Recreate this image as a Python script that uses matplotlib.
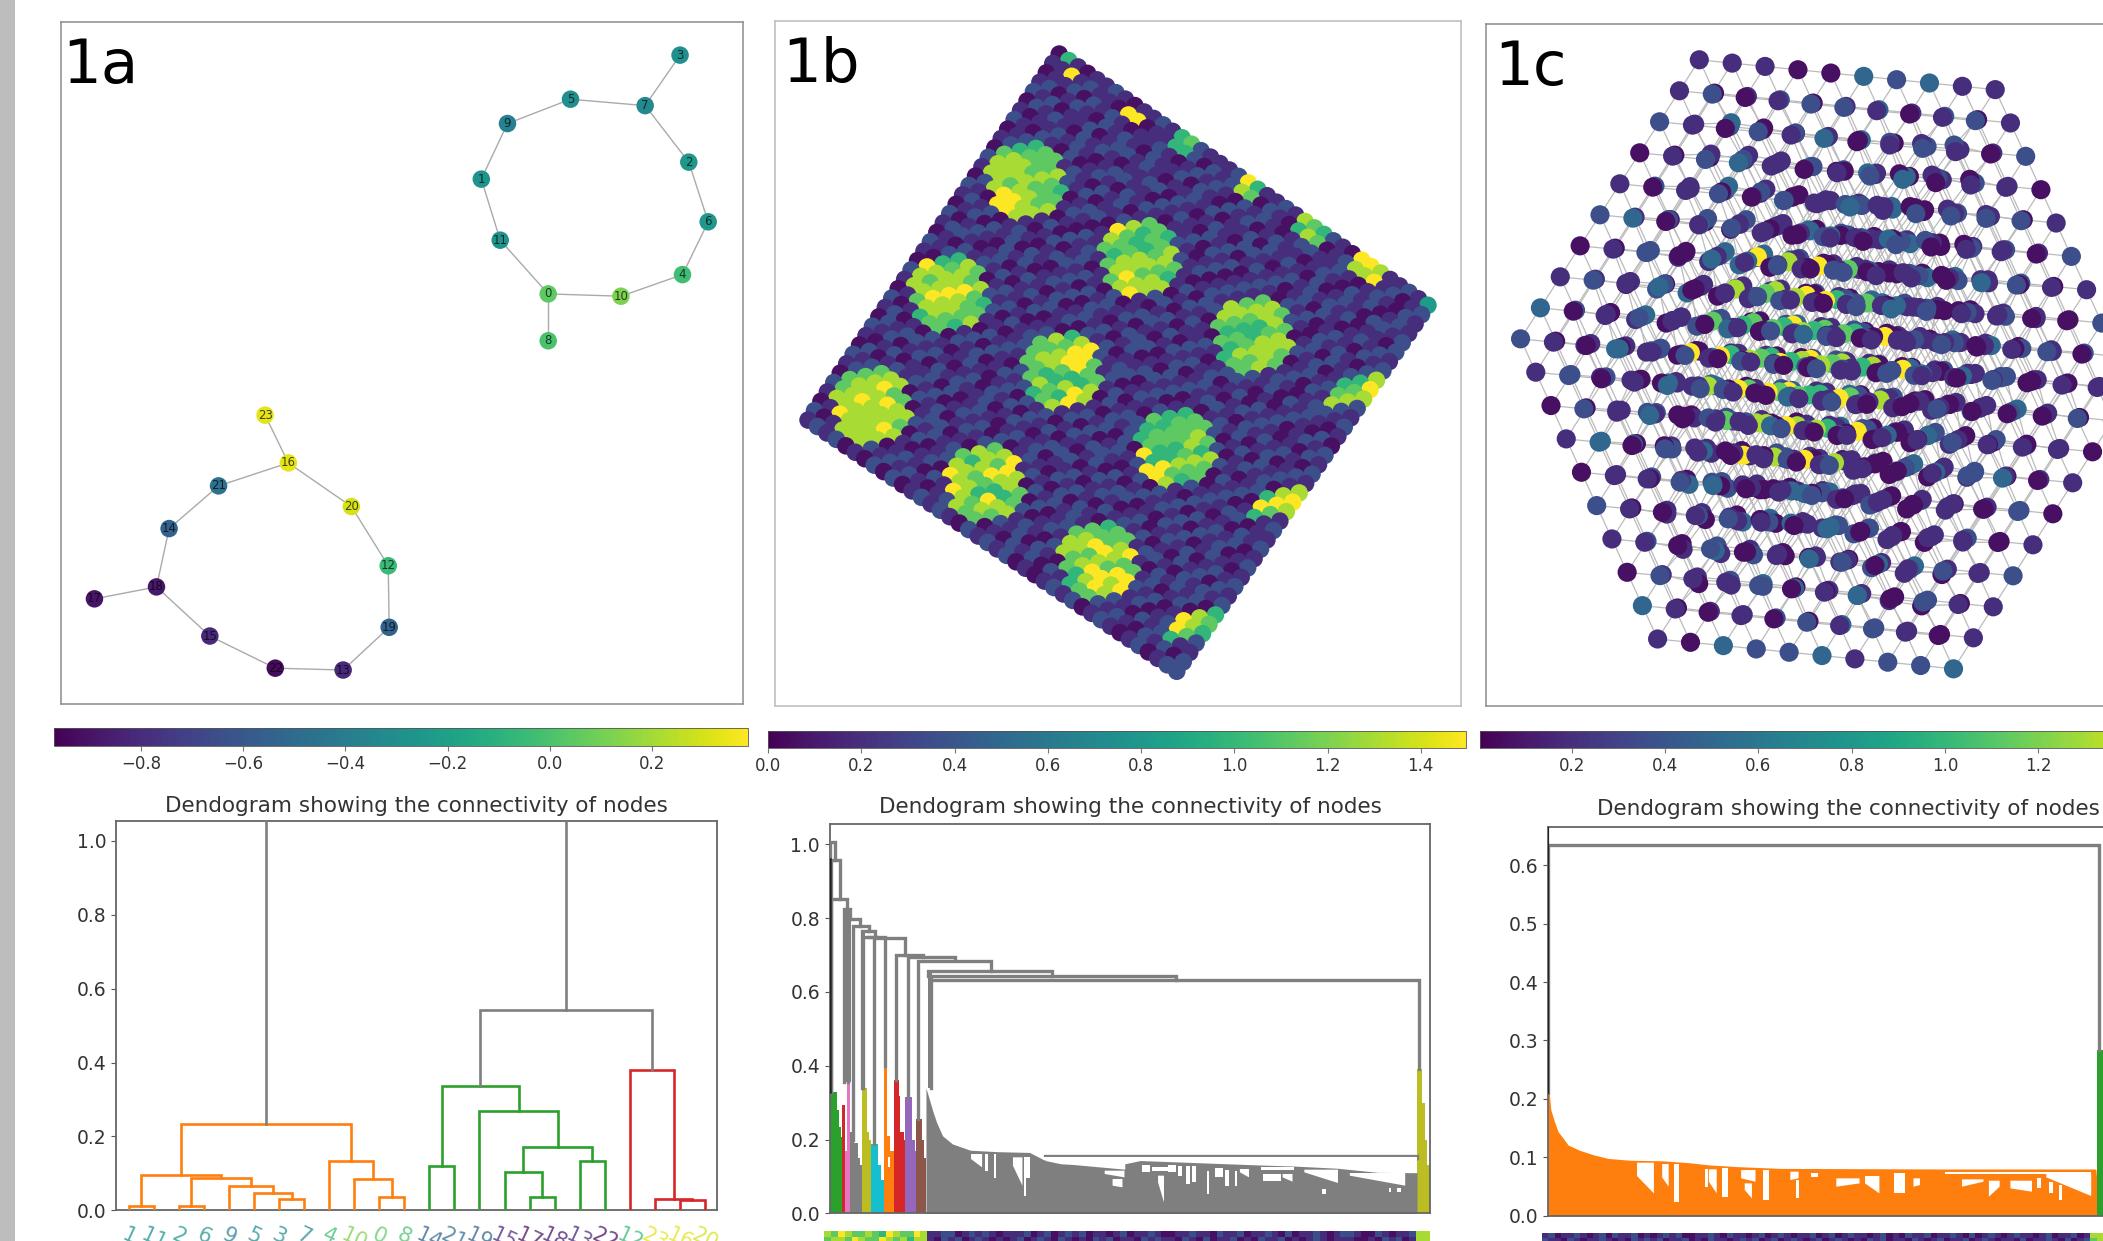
"""Three graph panels (1a, 1b, 1c) with colorbars and dendrograms underneath.
Coordinates were read off crops of the reference, so each axes keeps the crop's
own pixel units where that was easier.
"""
import numpy as np
import matplotlib
matplotlib.use("Agg")
import matplotlib.pyplot as plt
from matplotlib.cm import ScalarMappable
from matplotlib.collections import LineCollection
from matplotlib.colors import Normalize
from matplotlib.patches import Polygon, Rectangle

W, H = 2103, 1241
TXT = "#333333"
plt.rcParams.update({"font.family": "DejaVu Sans", "font.size": 13})

# ---- panel 1a: two small rings ----
a_x = [1131, 993, 1421, 1403, 1408, 1177, 1461, 1331, 1131, 1047, 1281, 1032,
       801, 708, 349, 433, 595, 195, 323, 803, 725, 451, 568, 547]
a_y = [640, 390, 353, 120, 598, 216, 483, 230, 742, 269, 645, 523,
       1232, 1459, 1151, 1385, 1008, 1304, 1278, 1366, 1103, 1058, 1455, 904]
a_val = [0.05, -0.27, -0.25, -0.30, -0.03, -0.30, -0.25, -0.33, 0.00, -0.38, 0.12, -0.28,
         -0.05, -0.82, -0.55, -0.82, 0.33, -0.90, -0.88, -0.55, 0.30, -0.47, -0.93, 0.33]
a_edges = [(0, 10), (10, 4), (4, 6), (6, 2), (2, 7), (7, 3), (7, 5), (5, 9), (9, 1), (1, 11), (11, 0), (0, 8),
           (16, 23), (16, 20), (20, 12), (12, 19), (19, 13), (13, 22), (22, 15), (15, 18), (18, 17), (18, 14),
           (14, 21), (21, 16)]
a_leaves = [1, 11, 2, 6, 9, 5, 3, 7, 4, 10, 0, 8, 14, 21, 19, 15, 17, 18, 13, 22, 12, 23, 16, 20]

# left x, right x, left foot, right foot, top, colour
a_links = [
    (5, 15, 0, 0, .013, "C1"), (25, 35, 0, 0, .013, "C1"), (65, 75, 0, 0, .032, "C1"),
    (55, 70, 0, .032, .047, "C1"), (45, 62.5, 0, .047, .067, "C1"), (30, 53.75, .013, .067, .089, "C1"),
    (10, 41.9, .013, .089, .095, "C1"), (105, 115, 0, 0, .036, "C1"), (95, 110, 0, .036, .085, "C1"),
    (85, 102.5, 0, .085, .133, "C1"), (25.9, 93.75, .095, .133, .235, "C1"),
    (125, 135, 0, 0, .119, "C2"), (165, 175, 0, 0, .036, "C2"), (155, 170, 0, .036, .104, "C2"),
    (185, 195, 0, 0, .133, "C2"), (162.5, 190, .104, .133, .172, "C2"), (145, 176.25, 0, .172, .268, "C2"),
    (130, 160.6, .119, .268, .336, "C2"),
    (225, 235, 0, 0, .027, "C3"), (215, 230, 0, .027, .031, "C3"), (205, 222.5, 0, .031, .38, "C3"),
    (145.3, 213.75, .336, .38, .543, "C7"), (59.8, 179.5, .235, .543, 1.25, "C7"),
]

# digit -> position on viridis, shared by the two lattices
levels = np.array([.04, .13, .24, .33, .44, .55, .66, .75, .87, 1.0])

# ---- panel 1b: square lattice, one digit per node, row v, column u ----
b_rows = [
    "0610112101121002111210112110121012011215",
    "1111211021011212021212021012101210212012",
    "0112021210112101212102121012211210121021",
    "1201210212102112021021201211012102120121",
    "2120112012212101121201120212102012102212",
    "0212102121011220210121022101212121201102",
    "1011212101221102121021201212012021012121",
    "2102102012102121011202120121021201210212",
    "0121021210212012122101201212102102121021",
    "1210120212011201210212012101212012021202",
    "0212102101220120120210121021201221201211",
    "2101212012101212011212022012102101212102",
    "1020121201021021202101210212011212021021",
    "0212012120212102101220121020120121012212",
    "2101221012012012121012011212102120212101",
    "1212012101221210201221202101221010121020",
    "0120212021012021212010121212012021201212",
    "2012102120121202101222012012101212101021",
    "1221012012102012120120102121221021212102",
    "0102121201212120212011221201012120120121",
    "2120210121020102012122012012212012021212",
    "1012012212101221210120121201201201212021",
    "0221201020212012012212010212120121012102",
    "2102121211012120210102122020121202120121",
    "1210201202121012122010212112012101201212",
    "0121012120210201012121202021201212122011",
    "2012120212012122101202012120121021010212",
    "1201021012101202120121221012021202121201",
    "0212212101202120212010120201212120212012",
    "2120120212112012101222012122010212012101",
    "1012011202012101212011201210120121201212",
    "0201212120121202012102121021212010212021",
    "2122010212012120121210202102021221021212",
    "1201221012201012021021212120210102121201",
    "0120102121212201201202012012122012012012",
    "2012120102012120212120121201201221201221",
    "1201012210120212012012102112021012012102",
    "0122121012102121021212021020120210212011",
    "2010202121210120120102120212012121021202",
    "1212010202012121021212010121201210120122",
]
# overlays for the bright patches: u0, v0, rows of digits (blank keeps the background)
b_patches = [
    (1, 8, ["  677  ", " 67778 ", "7887876", "8888777", "8878878", " 89988 ", "  998  "]),
    (13, 8, ["  776  ", " 86778 ", "9766787", "8778876", "7688788", " 78988 ", "  789  "]),
    (25, 8, ["  787  ", " 78887 ", "8876788", "8766887", "7677887", " 76878 ", "  677  "]),
    (1, 20, ["  687  ", " 67878 ", "9888976", "8789877", "8898878", " 78876 ", "  677  "]),
    (13, 20, ["  689  ", " 87997 ", "7789977", "7887668", "7766898", " 78769 ", "  678  "]),
    (25, 20, ["  677  ", " 67787 ", "7677868", "6776787", "6766877", " 96976 ", "  998  "]),
    (1, 32, ["  788  ", " 78977 ", "7888988", "7898887", "8888898", " 98888 ", "  888  "]),
    (13, 32, ["  789  ", " 88798 ", "7689887", "8877667", "9886988", " 98787 ", "  877  "]),
    (25, 32, ["  677  ", " 77789 ", "7899877", "8878799", "8789989", " 76898 ", "  677  "]),
    (1, 0, ["6"]), (2, 1, ["9"]), (8, 1, ["99"]), (13, 0, ["67", "66"]), (20, 0, ["96", "87"]),
    (26, 0, ["876", "687"]), (32, 0, ["998", "889"]), (39, 0, ["5"]),
    (37, 8, ["  8", " 69", "678", "78 ", "8  "]), (37, 20, ["  8", " 89", "698", "97 ", "6  "]),
    (37, 33, ["  6", " 87", "986", "97 ", "6  "]),
]

# ---- panel 1c: 10x10x10 cube, ten layers k, each 100 digits (row j, column i) ----
c_layers = [
    "1110032311" "1201221012" "2102130121" "0123101230" "1012021312" "2301210102" "0120312021" "1213012102"
    "3012101231" "2103120102",
    "0120131201" "1302102120" "0121203011" "2101312102" "1230102130" "0211301201" "1023012113" "2110230121"
    "0131012201" "1201321012",
    "2101302112" "0112013201" "1320121012" "0210132021" "2013101210" "1201210312" "0312102101" "1021301212"
    "2110120310" "0213011201",
    "1032101210" "2101230112" "0213012101" "1310210203" "0121302011" "3101201212" "1210130201" "2031012110"
    "0120213101" "1302101021",
    "0211302101" "1102130210" "2310102112" "0121013201" "1203210110" "2011321020" "0132101212" "1101202301"
    "3201012110" "0112301201",
    "1320101212" "0211032101" "1102310210" "2013012101" "0121102312" "1302011210" "2110130102" "0231012101"
    "1012103120" "2101210301",
    "2011031201" "1203101210" "0312012102" "1021201310" "3110210120" "0201313011" "1120120302" "2301102101"
    "0121031211" "1102013201",
    "0132101102" "2101013210" "1210301201" "0312110120" "2011203101" "1120102313" "0203211010" "1012130201"
    "2130101212" "0211201302",
    "1201310120" "0310212101" "2102011312" "1130120201" "0211031210" "2013101102" "1301220110" "0120113201"
    "1012302101" "3101021210",
    "2101120312" "1320102101" "0121310210" "2103012011" "1011230120" "0312101201" "2101013112" "1230110201"
    "0112032101" "1032231223",
]
# central cube of high nodes: i 2..5, j 3..6, k 3..6
c_hot = [
    ["9897", "8789", "7678", "9989"],
    ["8967", "7667", "6768", "8997"],
    ["9769", "6876", "7769", "7898"],
    ["9889", "9678", "8869", "9898"],
]

# ---- colourbar ticks ----
cbar_a = dict(lim=(-0.97, 0.388), ticks=[-0.8, -0.6, -0.4, -0.2, 0.0, 0.2])
cbar_b = dict(lim=(0.0, 1.497), ticks=[0.0, 0.2, 0.4, 0.6, 0.8, 1.0, 1.2, 1.4])
cbar_c = dict(lim=(0.003, 1.5), ticks=[0.2, 0.4, 0.6, 0.8, 1.0, 1.2])

# ---- dendrogram 1b, x in crop units, heights in data units ----
d_b_bodies = [
    ("C2", [25, 35, 42, 48, 53, 56], [.328, .328, .28, .233, .206, .206]),
    ("C3", [56, 62], [.294, .294]),
    ("C6", [62, 68, 69, 76], [.17, .17, .355, .355]),
    ("C7", [76, 85, 95, 102, 106], [.22, .19, .15, .13, .11]),
    ("C8", [106, 114, 118, 124, 129], [.34, .34, .22, .2, .18]),
    ("C9", [129, 138, 146, 154, 162], [.188, .188, .13, .09, .08]),
    ("C1", [162, 168, 170, 176, 187], [.4, .4, .21, .17, .15]),
    ("C3", [187, 197, 200, 203, 212, 216], [.36, .36, .318, .22, .2, .18]),
    ("C4", [216, 230, 232, 240, 243], [.314, .314, .2, .17, .16]),
    ("C5", [243, 252, 258, 263, 268], [.255, .255, .2, .15, .13]),
    ("C8", [1510, 1518, 1523, 1530, 1535, 1543], [.39, .39, .3, .2, .13, .1]),
]
d_b_main_x = [268, 285, 295, 310, 335, 380, 450, 530, 570, 610, 770, 810, 960, 1110, 1200, 1310, 1410, 1510]
d_b_main_y = [.34, .278, .246, .21, .188, .171, .167, .165, .143, .134, .134, .143, .137, .131, .128, .122, .111, .11]
d_b_links = [
    (25, 37, .33, .958, 1.006), (28, 51, .33, .851, .958), (28, 69, .33, .826, .851), (61, 77, .355, .799, .826),
    (72, 100, .355, .779, .799), (84, 125, .2, .764, .779), (106, 138, .34, .748, .764),
    (110, 137, .34, .188, .748), (123, 165, .748, .4, .75), (144, 214, .75, .701, .745),
    (193, 260, .36, .694, .70), (223, 342, .315, .687, .694), (249, 432, .255, .658, .685),
    (273, 588, .644, .644, .658), (280, 900, .632, .632, .644), (280, 1514, .34, .39, .632),
    (570, 1510, .15, .15, .156),
]
# thick runs of gray verticals: x0, x1, bottom, top
d_b_bars = [(60, 78, .355, .826), (104, 113, .34, .76), (134, 140, .19, .75), (162, 168, .4, .75),
            (190, 196, .36, .70), (220, 226, .315, .695), (247, 253, .255, .685), (272, 284, .34, .655)]
# white gaps: x0, x1, top, depth at x0, depth at x1 (crop rows)
d_b_gaps = [
    (382, 410, 345, 360, 385), (418, 424, 345, 395, 395), (440, 446, 345, 417, 417), (488, 512, 355, 380, 440),
    (517, 520, 355, 470, 470), (522, 531, 355, 418, 418), (565, 1510, 355, 362, 362), (615, 772, 362, 375, 392),
    (720, 770, 395, 405, 415), (740, 765, 420, 440, 445), (815, 835, 378, 400, 400), (840, 880, 385, 395, 395),
    (855, 870, 410, 430, 490), (880, 900, 378, 400, 400), (905, 915, 380, 410, 410), (925, 935, 380, 435, 435),
    (940, 950, 380, 430, 430), (978, 985, 395, 465, 465), (1000, 1020, 388, 415, 415), (1025, 1035, 392, 440, 440),
    (1050, 1055, 395, 440, 440), (1062, 1085, 390, 400, 415), (1115, 1200, 383, 393, 393), (1120, 1165, 405, 425, 425),
    (1170, 1195, 405, 415, 428), (1225, 1310, 392, 400, 432), (1270, 1280, 450, 465, 465), (1340, 1480, 402, 410, 440),
    (1440, 1445, 448, 460, 460), (1460, 1470, 448, 460, 460), (172, 178, 355, 385, 385),
]
d_b_strip = ["8798778769877981122012121011120120121201101201121001121102112011210201121012210021011288",
             "7887987798786881021201210101201210210102120110212110210201120102112010121011100102120188"]

# ---- dendrogram 1c ----
d_c_env_x = [22, 25, 30, 40, 50, 65, 78, 110, 150, 190, 250, 340, 410, 470, 550, 670, 1125, 1548, 1552]
d_c_env_y = [.214, .212, .181, .161, .144, .132, .121, .112, .104, .098, .095, .094, .091, .087, .084, .081, .080, .080, .05]
d_c_gaps = [
    (270, 317, 218, 258, 310), (340, 358, 222, 262, 290), (372, 386, 222, 335, 335), (458, 468, 238, 290, 290),
    (470, 492, 238, 275, 310), (508, 522, 233, 320, 320), (560, 600, 240, 265, 275), (570, 590, 280, 300, 325),
    (620, 638, 240, 330, 330), (697, 720, 245, 270, 265), (712, 720, 270, 325, 325), (755, 775, 250, 262, 262),
    (825, 890, 265, 290, 280), (905, 945, 258, 280, 310), (985, 1015, 250, 310, 310), (1040, 1058, 265, 290, 285),
    (1127, 1535, 247, 253, 253), (1175, 1235, 268, 290, 275), (1250, 1280, 272, 320, 290), (1310, 1370, 272, 295, 305),
    (1385, 1395, 265, 295, 295), (1418, 1428, 275, 310, 310), (1445, 1455, 285, 330, 330), (1410, 1535, 252, 262, 318),
]
d_c_strip = ["1201121012021120101212001121021101201210112012012110120102112011210201210121101201120188",
             "2110210112101021212011201021101212012012101201210102120110210120112012101102011210201278"]


def px_axes(x0, y0, x1, y1):
    # axes from reference pixels, y going down
    return fig.add_axes([x0 / W, 1 - y1 / H, (x1 - x0) / W, (y1 - y0) / H])


def graph_axes(box, xlim, ylim, edge, label, lab_x):
    ax = px_axes(*box)
    ax.set_xlim(*xlim)
    ax.set_ylim(*ylim)
    ax.set_xticks([])
    ax.set_yticks([])
    for s in ax.spines.values():
        s.set_color(edge)
        s.set_linewidth(1.1)
    ax.text(lab_x, 0.978, label, transform=ax.transAxes, fontsize=44, va="top", ha="left", color="black", zorder=9)
    return ax


def cbar(box, spec):
    cax = px_axes(*box)
    sm = ScalarMappable(norm=Normalize(*spec["lim"]), cmap="viridis")
    cb = fig.colorbar(sm, cax=cax, orientation="horizontal")
    cb.set_ticks(spec["ticks"])
    cb.ax.tick_params(labelsize=12, length=3.5, width=0.8, color="#777777", labelcolor=TXT)
    cb.outline.set_linewidth(0.6)
    cb.outline.set_edgecolor("#555555")


def dendro_axes(box, xlim, ylim, yticks, title_pad):
    ax = px_axes(*box)
    ax.set_xlim(*xlim)
    ax.set_ylim(*ylim)
    ax.set_yticks(yticks)
    ax.set_yticklabels([f"{t:.1f}" for t in yticks])
    ax.set_xticks([])
    ax.tick_params(axis="y", labelsize=13.5, length=3.5, color="#555555", labelcolor=TXT)
    for s in ax.spines.values():
        s.set_color("#666666")
        s.set_linewidth(1.3)
    ax.set_title("Dendogram showing the connectivity of nodes", fontsize=15.5, color=TXT, pad=title_pad)
    return ax


def draw_link(ax, l, color, lw):
    x0, x1, f0, f1, top = l
    ax.plot([x0, x0, x1, x1], [f0, top, top, f1], color=color, lw=lw, solid_joinstyle="miter", zorder=3)


def draw_gaps(ax, gaps, to_val):
    for x0, x1, top, d0, d1 in gaps:
        ax.add_patch(Polygon([(x0, to_val(top)), (x1, to_val(top)), (x1, to_val(d1)), (x0, to_val(d0))],
                             facecolor="white", edgecolor="none", zorder=4))


def strip(box, rows):
    ax = px_axes(*box)
    arr = levels[np.array([[int(c) for c in r] for r in rows])]
    ax.imshow(arr, cmap="viridis", vmin=0, vmax=1, aspect="auto", interpolation="nearest")
    ax.axis("off")


fig = plt.figure(figsize=(W / 100, H / 100), dpi=100)
fig.patches.append(Rectangle((0, 0), 15 / W, 1, transform=fig.transFigure, facecolor="#bdbdbd", edgecolor="none"))

# ---- 1a ----
ax = graph_axes((61, 21.6, 742.6, 704), (126, 1532), (1533, 47), "#8c8c8c", "1a", 0.002)
norm_a = Normalize(*cbar_a["lim"])
segs = [[(a_x[p], a_y[p]), (a_x[q], a_y[q])] for p, q in a_edges]
ax.add_collection(LineCollection(segs, colors="#aaaaaa", linewidths=1.0, zorder=1))
ax.scatter(a_x, a_y, c=a_val, s=159, cmap="viridis", norm=norm_a, linewidths=0, zorder=2)
for n, (xx, yy) in enumerate(zip(a_x, a_y)):
    ax.text(xx, yy, str(n), fontsize=8.5, ha="center", va="center", color="black", alpha=0.7, zorder=3)

# ---- 1b ----
ax = graph_axes((775, 21, 1461, 705.7), (33, 1527), (1537, 46), "#bbbbbb", "1b", 0.011)
b_grid = np.array([[int(c) for c in r] for r in b_rows])
for u0, v0, rows in b_patches:
    for dv, row in enumerate(rows):
        for du, ch in enumerate(row):
            if ch != " " and v0 + dv < 40 and u0 + du < 40:
                b_grid[v0 + dv, u0 + du] = int(ch)
# lattice axes from the corners top (652,118), right (1455,665), left (105,915)
vv, uu = np.mgrid[0:40, 0:40]
bx = 652 + uu * 803 / 39 - vv * 547 / 39
by = 118 + uu * 547 / 39 + vv * 797 / 39
ax.scatter(bx.ravel(), by.ravel(), c=levels[b_grid.ravel()], s=160, cmap="viridis", vmin=0, vmax=1,
           linewidths=0, zorder=2)

# ---- 1c ----
ax = graph_axes((1486, 24, 2172, 706), (15, 1742), (1538, 52), "#8c8c8c", "1c", 0.012)
c_grid = np.array([[[int(ch) for ch in lay[j * 10:(j + 1) * 10]] for j in range(10)] for lay in c_layers])
for dk, lay in enumerate(c_hot):
    for dj, row in enumerate(lay):
        for di, ch in enumerate(row):
            c_grid[3 + dk, 3 + dj, 2 + di] = int(ch)
# cube axes from the hexagon corners; the warp fans out nodes that would land on top of each other
kk, jj, ii = np.mgrid[0:10, 0:10, 0:10]
cx = 552 + ii * 745 / 9 - jj * 450 / 9 + kk * 345 / 9
cy = 130 + ii * 65 / 9 + jj * 608 / 9 + kk * 654 / 9
warp = (np.sin(np.pi * ii / 9) * np.sin(np.pi * jj / 9) * np.sin(np.pi * kk / 9)) ** 0.35
depth = ii + jj - kk - 4.5
xn, yn = (cx - 872) / 700, (cy - 793) / 650
cx_w = cx - 8.0 * warp * depth
cy_w = cy + 8.0 * warp * depth * 4.0 * xn * yn
segs = []
for k in range(10):
    for j in range(10):
        for i in range(10):
            if i < 9:
                segs.append([(cx_w[k, j, i], cy_w[k, j, i]), (cx_w[k, j, i + 1], cy_w[k, j, i + 1])])
            if j < 9:
                segs.append([(cx_w[k, j, i], cy_w[k, j, i]), (cx_w[k, j + 1, i], cy_w[k, j + 1, i])])
            if k < 9:
                segs.append([(cx_w[k, j, i], cy_w[k, j, i]), (cx_w[k + 1, j, i], cy_w[k + 1, j, i])])
ax.add_collection(LineCollection(segs, colors="#bbbbbb", linewidths=0.9, zorder=1))
order = np.argsort(depth.ravel() * 1000 + ii.ravel(), kind="stable")
ax.scatter(cx_w.ravel()[order], cy_w.ravel()[order], c=levels[c_grid.ravel()[order]], s=190, cmap="viridis",
           vmin=0, vmax=1, linewidths=0, zorder=2)

# ---- colourbars ----
cbar((54.3, 728, 748, 745.6), cbar_a)
cbar((768, 730.6, 1466, 747.6), cbar_b)
cbar((1480, 730.6, 2178, 747.6), cbar_c)

# ---- dendrogram 1a ----
ax = dendro_axes((116.3, 821.3, 717.4, 1210.4), (0, 240), (0, 1.053), [0, .2, .4, .6, .8, 1.0], 7)
for x0, x1, f0, f1, top, col in a_links:
    draw_link(ax, (x0, x1, f0, f1, top), col, 1.9)
ax.set_xticks(np.arange(5, 240, 10))
ax.set_xticklabels([str(n) for n in a_leaves], rotation=-25, fontsize=15, ha="center", va="top")
ax.tick_params(axis="x", length=0, pad=10)
for lab, n in zip(ax.get_xticklabels(), a_leaves):
    lab.set_color(plt.cm.viridis(norm_a(a_val[n])))
    lab.set_alpha(0.75)

# ---- dendrogram 1b ----
ax = dendro_axes((829.8, 823.7, 1430.3, 1213.3), (24.8, 1543.5), (0, 1.056), [0, .2, .4, .6, .8, 1.0], 8)
for col, xs, ys in d_b_bodies:
    ax.fill_between(xs, 0, ys, color=col, linewidth=0, step="post", zorder=2)
ax.fill_between(d_b_main_x, 0, d_b_main_y, color="C7", linewidth=0, zorder=2)
for x0, x1, y0, y1 in d_b_bars:
    ax.fill_between([x0, x1], y0, y1, color="C7", linewidth=0, zorder=2)
for l in d_b_links:
    draw_link(ax, l, "C7", 2.4)
ax.plot([26, 26], [.33, .96], color="#222222", lw=1.8, zorder=4)
draw_gaps(ax, d_b_gaps, lambda zy: (523 - zy) / 1108)
strip((824, 1231, 1430, 1243), d_b_strip)

# ---- dendrogram 1c ----
ax = dendro_axes((1548, 827.3, 2149, 1215.7), (22, 1696), (0, .665), [0, .1, .2, .3, .4, .5, .6], 9)
ax.fill_between(d_c_env_x, 0, d_c_env_y, color="C1", linewidth=0, zorder=2)
ax.fill_between([1552, 1696], 0, [.283, .283], color="C2", linewidth=0, zorder=2)
draw_link(ax, (22, 1556, .21, .283, .635), "C7", 2.4)
ax.plot([23, 23], [.21, .665], color="#222222", lw=1.6, zorder=4)
draw_gaps(ax, d_c_gaps, lambda zy: (377 - zy) / 1752)
strip((1542, 1233, 2103, 1243), d_c_strip)

plt.savefig("out.png", dpi=100)
